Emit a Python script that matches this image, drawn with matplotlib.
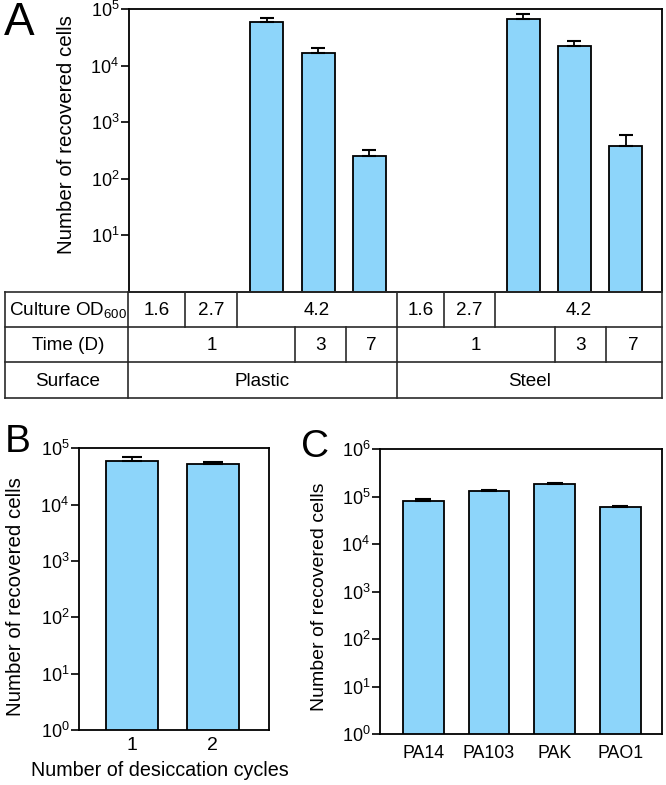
import numpy as np
import matplotlib
matplotlib.use("Agg")
import matplotlib.pyplot as plt
from matplotlib.ticker import NullLocator, FixedLocator

plt.rcParams['font.family'] = ['Liberation Sans', 'DejaVu Sans']
plt.rcParams['mathtext.fontset'] = 'custom'
plt.rcParams['mathtext.rm'] = 'Liberation Sans'
plt.rcParams['mathtext.it'] = 'Liberation Sans:italic'
plt.rcParams['mathtext.bf'] = 'Liberation Sans:bold'

# ---------------- data ----------------
# Panel A: 10 conditions (plastic 5, steel 5); NaN = no bar
a_surface = ["Plastic"] * 5 + ["Steel"] * 5
a_od = ["1.6", "2.7", "4.2", "4.2", "4.2", "1.6", "2.7", "4.2", "4.2", "4.2"]
a_time = ["1", "1", "1", "3", "7", "1", "1", "1", "3", "7"]
a_values = [np.nan, np.nan, 58000, 16700, 255, np.nan, np.nan, 66400, 22300, 373]
a_err = [np.nan, np.nan, 11000, 3300, 70, np.nan, np.nan, 14100, 5100, 205]

# Panel B
b_cycles = ["1", "2"]
b_values = [58700, 52000]
b_err = [12300, 5600]

# Panel C
c_strains = ["PA14", "PA103", "PAK", "PAO1"]
c_values = [81600, 132000, 183000, 60100]
c_err = [6900, 9000, 12000, 4900]

BAR = '#8dd5fa'
W, H = 666, 785
fig = plt.figure(figsize=(W / 100, H / 100), dpi=100)


def px_axes(x0, x1, y0, y1):
    return fig.add_axes([x0 / W, 1 - y1 / H, (x1 - x0) / W, (y1 - y0) / H])


def style_log(ax, ticks):
    ax.set_yscale('log')
    ax.yaxis.set_major_locator(FixedLocator(ticks))
    ax.yaxis.set_minor_locator(NullLocator())
    ax.xaxis.set_minor_locator(NullLocator())
    for s in ax.spines.values():
        s.set_linewidth(1.3)
    ax.tick_params(axis='y', direction='out', length=6, width=1.2,
                   labelsize=13, pad=1)
    ax.tick_params(axis='x', length=0, labelsize=12.8, pad=8)


# ---------------- Panel A ----------------
axA = px_axes(129, 662, 9, 291.5)
xs = np.arange(len(a_values))
vals = np.array(a_values, dtype=float)
errs = np.array(a_err, dtype=float)
m = ~np.isnan(vals)
axA.bar(xs[m], vals[m], width=0.64, color=BAR, edgecolor='black',
        linewidth=1.3, zorder=2)
axA.errorbar(xs[m], vals[m], yerr=[np.zeros(m.sum()), errs[m]], fmt='none',
             ecolor='black', elinewidth=1.3, capsize=5, capthick=1.5, zorder=3)
axA.set_xlim(-0.69, 9.71)
axA.set_ylim(1, 1e5)
style_log(axA, [1e1, 1e2, 1e3, 1e4, 1e5])
axA.set_xticks([])
fig.text(67 / W, 1 - 135 / H, "Number of recovered cells", rotation=90,
         ha='center', va='center', fontsize=14.8)
fig.text(4 / W, 1 - 23 / H, "A", fontsize=33, ha='left', va='center')

# ---------------- Table under A ----------------
tb = px_axes(5, 662, 291.7, 398.3)
tb.set_xlim(5, 662)
tb.set_ylim(398.3, 291.7)
tb.axis('off')
rows_y = [291.7, 326.7, 362.3, 398.3]
lc = '#2a2a2a'
lw = 1.2
for y in rows_y:
    tb.plot([5, 662], [y, y], color=lc, lw=lw, clip_on=False)
for x in [5, 662]:
    tb.plot([x, x], [rows_y[0], rows_y[-1]], color=lc, lw=lw, clip_on=False)
# column edges per row (layout)
od_edges = [128.3, 185, 236.7, 396.7, 444, 495, 661.7]
time_edges = [128.3, 295, 345.7, 396.7, 555, 605.7, 661.7]
surf_edges = [128.3, 396.7, 661.7]
for edges, (y0, y1) in [(od_edges, rows_y[0:2]), (time_edges, rows_y[1:3]),
                        (surf_edges, rows_y[2:4])]:
    for x in edges[:-1]:
        tb.plot([x, x], [y0, y1], color=lc, lw=lw, clip_on=False)


def merged(labels):
    out = []
    for lab in labels:
        if out and out[-1][0] == lab:
            out[-1][1] += 1
        else:
            out.append([lab, 1])
    return out


def merged_od(od, time, surf):
    # merge OD cells within same surface when values equal
    out = []
    for i, lab in enumerate(od):
        key = (surf[i], lab)
        if out and out[-1][0] == key:
            out[-1][1] += 1
        else:
            out.append([key, 1])
    return [[k[1], n] for k, n in out]


tfs = 13.6
row_specs = [
    (merged_od(a_od, a_time, a_surface), od_edges, rows_y[0:2]),
    (merged([s + t for s, t in zip(a_surface, a_time)]), time_edges, rows_y[1:3]),
    (merged(a_surface), surf_edges, rows_y[2:4]),
]
for r, (cells, edges, (y0, y1)) in enumerate(row_specs):
    for j, (lab, n) in enumerate(cells):
        txt = lab
        if r == 1:
            txt = lab.replace("Plastic", "").replace("Steel", "")
        cx = (edges[j] + edges[j + 1]) / 2
        tb.text(cx, (y0 + y1) / 2 + 1, txt, ha='center', va='center', fontsize=tfs)
row_titles = ["Culture OD$_{600}$", "Time (D)", "Surface"]
for r, t in enumerate(row_titles):
    tb.text(68, (rows_y[r] + rows_y[r + 1]) / 2 + 1, t, ha='center',
            va='center', fontsize=tfs)

# ---------------- Panel B ----------------
axB = px_axes(79, 268.7, 448.3, 730)
xb = np.arange(1, len(b_values) + 1)
axB.bar(xb, b_values, width=0.65, color=BAR, edgecolor='black', linewidth=1.3,
        zorder=2)
axB.errorbar(xb, b_values, yerr=[np.zeros(len(b_values)), b_err], fmt='none',
             ecolor='black', elinewidth=1.3, capsize=7, capthick=1.5, zorder=3)
axB.set_xlim(0.346, 2.69)
axB.set_ylim(1, 1e5)
style_log(axB, [1e0, 1e1, 1e2, 1e3, 1e4, 1e5])
axB.set_xticks(xb)
axB.set_xticklabels(b_cycles)
axB.tick_params(axis='x', labelsize=14, pad=5)
fig.text(16 / W, 1 - 597 / H, "Number of recovered cells", rotation=90,
         ha='center', va='center', fontsize=14.8)
fig.text(160 / W, 1 - 771 / H, "Number of desiccation cycles", ha='center',
         va='center', fontsize=14.2)
fig.text(5 / W, 1 - 442 / H, "B", fontsize=28, ha='left', va='center')

# ---------------- Panel C ----------------
axC = px_axes(380, 661.7, 449.3, 734)
xc = np.arange(len(c_values))
axC.bar(xc, c_values, width=0.62, color=BAR, edgecolor='black', linewidth=1.3,
        zorder=2)
axC.errorbar(xc, c_values, yerr=[np.zeros(len(c_values)), c_err], fmt='none',
             ecolor='black', elinewidth=1.3, capsize=6, capthick=1.5, zorder=3)
axC.set_xlim(-0.66, 3.63)
axC.set_ylim(1, 1e6)
style_log(axC, [1e0, 1e1, 1e2, 1e3, 1e4, 1e5, 1e6])
axC.set_xticks(xc)
axC.set_xticklabels(c_strains)
fig.text(320 / W, 1 - 597 / H, "Number of recovered cells", rotation=90,
         ha='center', va='center', fontsize=14)
fig.text(301 / W, 1 - 447 / H, "C", fontsize=28, ha='left', va='center')

fig.savefig("out.png", dpi=100)
